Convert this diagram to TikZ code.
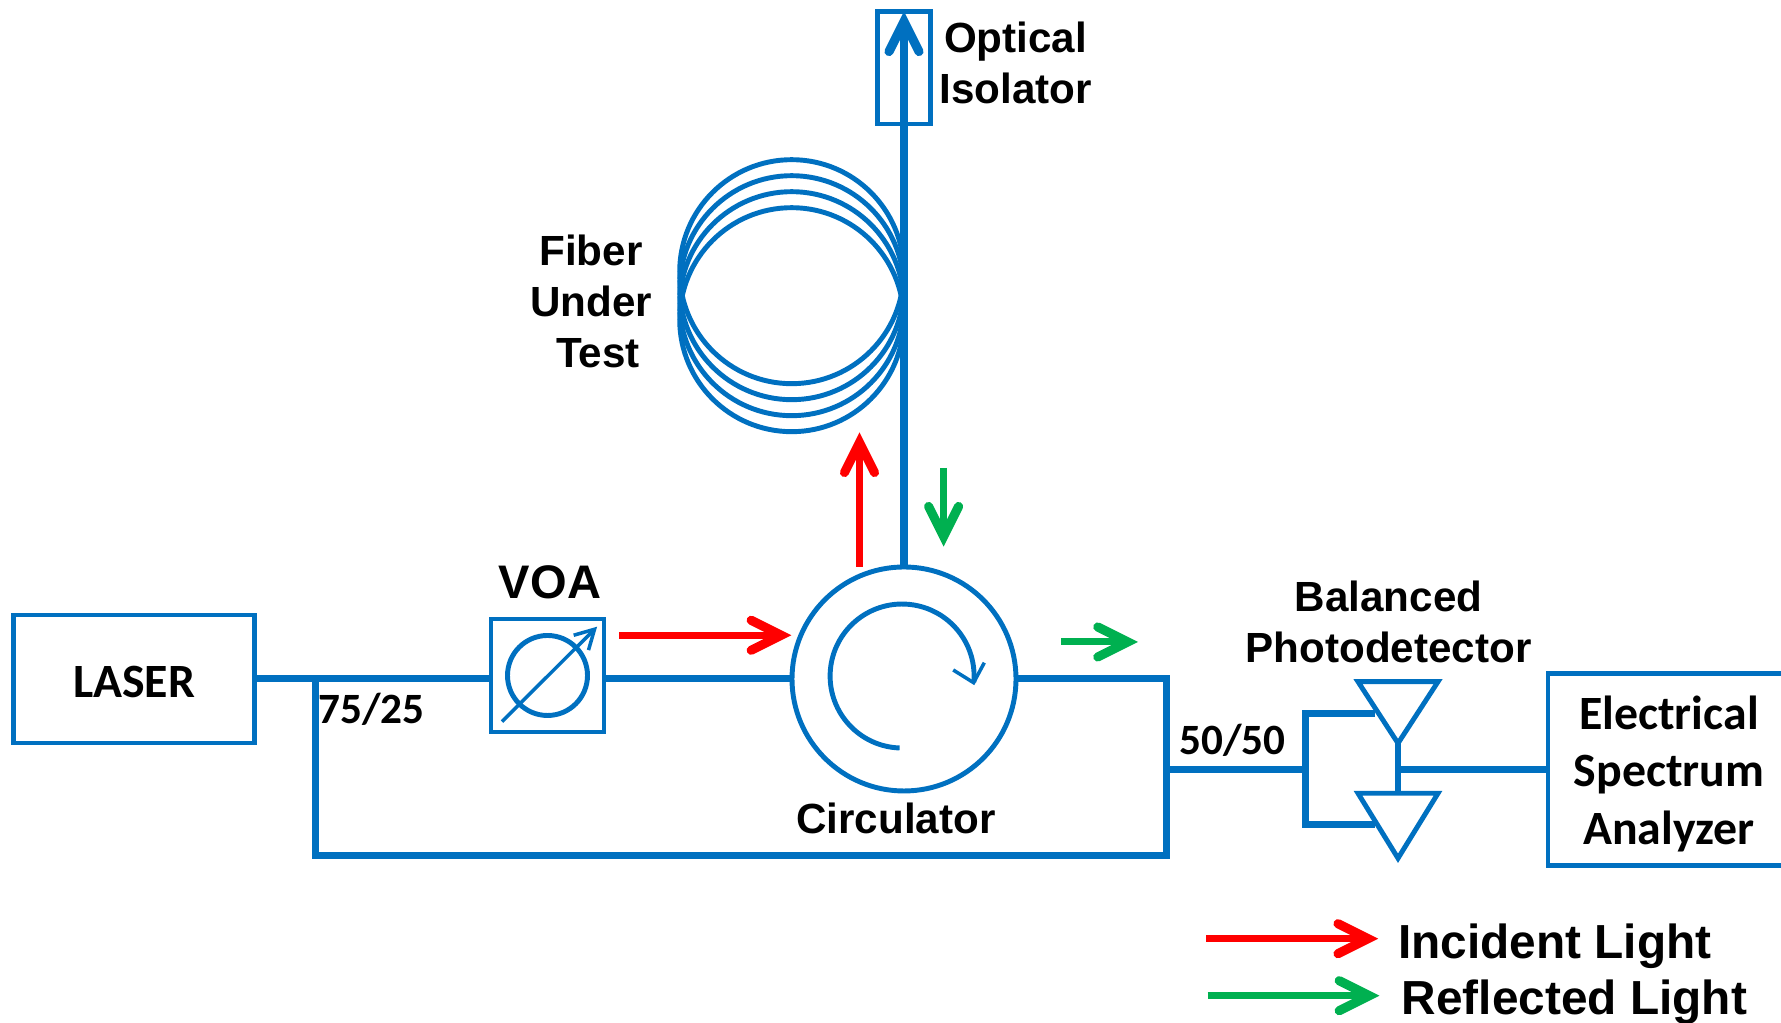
\documentclass[tikz,border=0pt]{standalone}
\usepackage{fontspec}
\usepackage{tikz}
\usetikzlibrary{arrows.meta}
\setmainfont{Liberation Sans}
\newfontfamily\calfont{Carlito}
\definecolor{fiberblue}{HTML}{0070C0}
\definecolor{lightred}{HTML}{FF0000}
\definecolor{lightgreen}{HTML}{00B050}
\tikzstyle{fiber}=[draw=fiberblue, line width=2pt]
\tikzstyle{outline}=[draw=fiberblue, line width=1.4pt, inner sep=0pt, outer sep=0pt]
\tikzstyle{coil}=[circle, outline, minimum size=2.24cm]
\tikzstyle{barb}=[-{Straight Barb[length=3mm, width=3mm, line width=2.6pt, line cap=round, line join=miter]}]
\tikzstyle{bluearrow}=[barb, draw=fiberblue, line width=2pt]
\tikzstyle{redarrow}=[barb, draw=lightred, line width=2pt]
\tikzstyle{greenarrow}=[barb, draw=lightgreen, line width=2pt]
\tikzstyle{arial}=[font=\fontsize{12}{14.5}\selectfont\bfseries, align=center, inner sep=0pt]
\tikzstyle{arialbig}=[font=\fontsize{13.6}{16}\selectfont\bfseries, inner sep=0pt]
\tikzstyle{calibri}=[font=\fontsize{12.3}{14}\selectfont\calfont\bfseries, inner sep=0pt]
\tikzstyle{calibribig}=[font=\fontsize{13.6}{16.5}\selectfont\calfont\bfseries, align=center, inner sep=0pt]
\begin{document}
\begin{tikzpicture}
		   \useasboundingbox (0, 0) rectangle (17.81, 10.23);
		   \begin{scope}
			   \node (laser) at (1.34, 3.44)[outline, minimum width=2.41cm, minimum height=1.28cm] {};
			   \node (voa) at (5.475, 3.475)[outline, minimum size=1.13cm] {};
			   \node (atten) at (5.475, 3.475)[coil, minimum size=.8cm] {};
			   \node (circ) at (9.04, 3.44)[coil] {};
			   \node (iso) at (9.04, 9.553)[outline, minimum width=.527cm, minimum height=1.127cm] {};
			   \node (esa) at (16.69, 2.535)[outline, minimum width=2.42cm, minimum height=1.924cm] {};
			   \node (coila) at (7.917, 7.513)[coil] {};
			   \node (coilb) at (7.917, 7.353)[coil] {};
			   \node (coilc) at (7.917, 7.193)[coil] {};
			   \node (coild) at (7.917, 7.033)[coil] {};
		   \end{scope}
		   \begin{scope}
			   \coordinate (tapa) at (3.155, 3.47);
			   \coordinate (tapb) at (3.155, 1.678);
			   \coordinate (tapc) at (11.66, 1.678);
			   \coordinate (tapd) at (11.66, 3.44);
			   \coordinate (split) at (11.66, 2.537);
			   \coordinate (pdin) at (13.05, 2.537);
			   \coordinate (pdup) at (13.05, 3.097);
			   \coordinate (pddown) at (13.05, 1.98);
			   \coordinate (pdupend) at (13.75, 3.097);
			   \coordinate (pddownend) at (13.75, 1.98);
			   \coordinate (pda) at (13.58, 3.413);
			   \coordinate (pdb) at (14.38, 3.413);
			   \coordinate (pdc) at (13.98, 2.797);
			   \coordinate (pdd) at (13.58, 2.297);
			   \coordinate (pde) at (14.38, 2.297);
			   \coordinate (pdf) at (13.98, 1.647);
			   \coordinate (pdout) at (13.98, 2.537);
			   \coordinate (pdmid) at (13.98, 2.297);
			   \coordinate (turna) at (8.996, 2.75);
			   \coordinate (turnb) at (9.843, 3.603);
			   \coordinate (turnc) at (9.736, 3.403);
			   \coordinate (turnd) at (9.532, 3.53);
			   \coordinate (attena) at (5.02, 3.013);
			   \coordinate (attenb) at (5.971, 3.963);
		   \end{scope}
		   \begin{scope}
			   \path [fiber] (laser.east) edge (laser.east -| voa.west);
			   \path [fiber] (circ.west -| voa.east) edge (circ.west);
			   \draw [bluearrow] (circ.north) -- (iso.north);
			   \draw [fiber] (tapa) -- (tapb) -- (tapc) -- (tapd) -- (circ.east);
			   \path [fiber] (split) edge (pdin);
			   \draw [fiber] (pdupend) -- (pdup) -- (pddown) -- (pddownend);
			   \path [fiber] (pdout) edge (esa.west |- pdout);
			   \path [fiber, line width=1.8pt] (pdc) edge (pdmid);
			   \draw [outline] (pda) -- (pdb) -- (pdc) -- cycle;
			   \draw [outline] (pdd) -- (pde) -- (pdf) -- cycle;
			   \draw [outline] (turna) arc[start angle=268, end angle=-5, radius=.72];
			   \draw [outline, line width=1pt] (turnb) -- (turnc) -- (turnd);
			   \draw [draw=fiberblue, line width=1pt, -{Straight Barb[length=1.9mm, width=2.1mm]}] (attena) -- (attenb);
		   \end{scope}
		   \begin{scope}
			   \coordinate (incidenta) at (6.193, 3.877);
			   \coordinate (incidentb) at (7.914, 3.877);
			   \coordinate (incidentc) at (8.595, 4.56);
			   \coordinate (incidentd) at (8.595, 5.907);
			   \coordinate (reflecta) at (9.436, 5.55);
			   \coordinate (reflectb) at (9.436, 4.763);
			   \coordinate (reflectc) at (10.61, 3.81);
			   \coordinate (reflectd) at (11.38, 3.81);
			   \coordinate (legenda) at (12.063, .843);
			   \coordinate (legendb) at (13.782, .843);
			   \coordinate (legendc) at (12.075, .273);
			   \coordinate (legendd) at (13.794, .273);
			   \draw [redarrow] (incidenta) -- (incidentb);
			   \draw [redarrow] (incidentc) -- (incidentd);
			   \draw [greenarrow] (reflecta) -- (reflectb);
			   \draw [greenarrow] (reflectc) -- (reflectd);
			   \draw [redarrow] (legenda) -- (legendb);
			   \draw [greenarrow] (legendc) -- (legendd);
		   \end{scope}
		   \begin{scope}
			   \node (laserlabel) at (1.34, 3.41)[calibribig] {LASER};
			   \node (esalabel) at (16.69, 2.49)[calibribig] {Electrical\\Spectrum\\Analyzer};
			   \node (isolabel) at (10.156, 9.6)[arial] {Optical\\Isolator};
			   \node (fiberlabel) at (5.91, 7.22)[arial] {Fiber\\Under\\\hspace*{3.9pt}Test};
			   \node (voalabel) at (5.5, 4.41)[arial, font=\fontsize{13.4}{16}\selectfont\bfseries] {VOA};
			   \node (circlabel) at (8.96, 2.05)[arial] {Circulator};
			   \node (pdlabel) at (13.885, 4.01)[arial] {Balanced\\Photodetector};
			   \node (tapratio) at (3.715, 3.14)[calibri] {75/25};
			   \node (splitratio) at (12.326, 2.823)[calibri] {50/50};
			   \node (incidentlabel) at (13.975, .768)[arialbig, anchor=west] {Incident Light};
			   \node (reflectlabel) at (14.01, .21)[arialbig, anchor=west] {Reflected Light};
		   \end{scope}
	   \end{tikzpicture}
\end{document}
